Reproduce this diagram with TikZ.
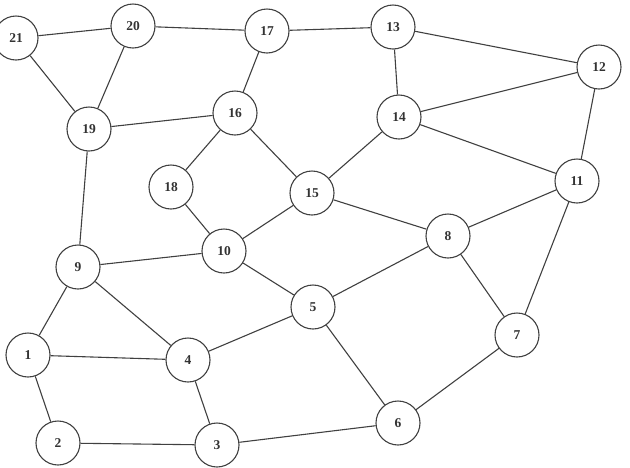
\documentclass[tikz,border=0pt]{standalone}
\usepackage{fontspec}
\setmainfont{Liberation Serif}
\begin{document}
\begin{tikzpicture}[x=1pt,y=-1pt,
  vtx/.style={circle,draw=black!75,line width=1.1pt,fill=white,minimum size=44pt,inner sep=0pt,
    font=\fontsize{13.5}{13.5}\selectfont\bfseries,text=black!80},
  edge/.style={draw=black!75,line width=1.1pt}]
\useasboundingbox (0,0) rectangle (630,467);
\node[vtx] (n21) at (16,38) {21};
\node[vtx] (n20) at (133,26) {20};
\node[vtx] (n17) at (267,31) {17};
\node[vtx] (n13) at (393,27) {13};
\node[vtx] (n12) at (599,67) {12};
\node[vtx] (n16) at (235,113) {16};
\node[vtx] (n14) at (399,117) {14};
\node[vtx] (n19) at (89,129) {19};
\node[vtx] (n18) at (171,187) {18};
\node[vtx] (n15) at (312,193) {15};
\node[vtx] (n11) at (577,181) {11};
\node[vtx] (n8) at (448,236) {8};
\node[vtx] (n10) at (224,251) {10};
\node[vtx] (n9) at (78,267) {9};
\node[vtx] (n5) at (313,307) {5};
\node[vtx] (n7) at (517,335) {7};
\node[vtx] (n1) at (28,355) {1};
\node[vtx] (n4) at (188,360) {4};
\node[vtx] (n6) at (398,423) {6};
\node[vtx] (n2) at (58,443) {2};
\node[vtx] (n3) at (217,445) {3};
\foreach \a/\b in {21/20,21/19,20/19,20/17,17/13,17/16,13/12,13/14,12/14,12/11,14/11,14/15,
  16/19,16/18,16/15,19/9,18/10,15/10,15/8,11/8,11/7,8/5,8/7,10/9,10/5,9/1,9/4,5/4,5/6,
  1/4,1/2,2/3,3/4,3/6,6/7}
  \draw[edge] (n\a) -- (n\b);
\end{tikzpicture}
\end{document}
